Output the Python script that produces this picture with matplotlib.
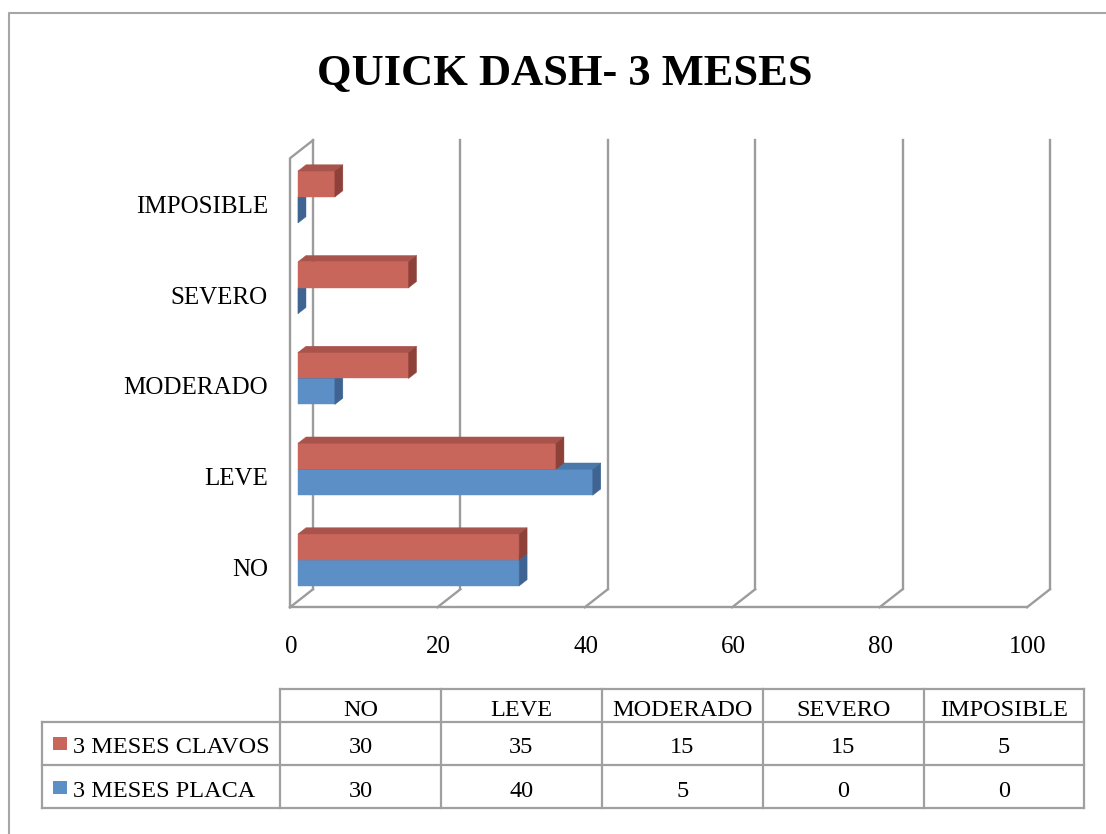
import matplotlib
matplotlib.use("Agg")
import matplotlib.pyplot as plt
from matplotlib.patches import Polygon, Rectangle
from matplotlib import transforms

# ---------------- data ----------------
title = "QUICK DASH- 3 MESES"
categories = ["NO", "LEVE", "MODERADO", "SEVERO", "IMPOSIBLE"]
series_names = ["3 MESES CLAVOS", "3 MESES PLACA"]
clavos = [30, 35, 15, 15, 5]
placa = [30, 40, 5, 0, 0]
xticks = [0, 20, 40, 60, 80, 100]

# ---------------- style ----------------
SERIF = ["Liberation Serif", "DejaVu Serif"]
LBL_FS = 18
TBL_FS = 17.5
GRID = "#9c9c9c"
RED = dict(front="#C9665C", top="#A8534B", side="#8E4139")
BLUE = dict(front="#5B8FC5", top="#4A78AB", side="#3F6491")

W, H = 1106, 834
fig = plt.figure(figsize=(W / 100, H / 100), dpi=100)
fig.patch.set_facecolor("white")

# overlay axes in pixel coordinates (border, title, table)
ov = fig.add_axes([0, 0, 1, 1], zorder=0)
ov.set_xlim(0, W)
ov.set_ylim(H, 0)
ov.axis("off")

# main chart axes (front plane of the bars)
x0px, x100px = 298, 1035
ybot, ytop = 601, 152
ax = fig.add_axes([x0px / W, 1 - ybot / H, (x100px - x0px) / W, (ybot - ytop) / H], zorder=2)
ax.set_xlim(0, 100)
y_floor, y_top = -0.452, 4.496
ax.set_ylim(y_floor, y_top)
ax.axis("off")

pxx = (x100px - x0px) / 100.0          # px per value unit
pxy = (ybot - ytop) / (y_top - y_floor)  # px per category unit
SLOPE = 18.0 / 23.0


def P(v, i, d):
    """point at value v, category coordinate i, depth d (px)"""
    return (v + d / pxx, i + d * SLOPE / pxy)


D_FRONT, D_BAR0, D_BAR1, D_BACK = -8, 0, 8, 15
lw_grid = 1.7

# walls / gridlines
for v in xticks:
    a, b = P(v, y_floor, D_BACK), P(v, y_top, D_BACK)
    ax.plot([a[0], b[0]], [a[1], b[1]], color=GRID, lw=lw_grid, clip_on=False, zorder=1)
    a, b = P(v, y_floor, D_FRONT), P(v, y_floor, D_BACK)
    ax.plot([a[0], b[0]], [a[1], b[1]], color=GRID, lw=lw_grid, clip_on=False, zorder=1)
a, b = P(xticks[0], y_floor, D_FRONT), P(xticks[-1], y_floor, D_FRONT)
ax.plot([a[0], b[0]], [a[1], b[1]], color=GRID, lw=lw_grid, clip_on=False, zorder=1)
pts = [P(0, y_floor, D_FRONT), P(0, y_top, D_FRONT), P(0, y_top, D_BACK)]
ax.plot([p[0] for p in pts], [p[1] for p in pts], color=GRID, lw=lw_grid, clip_on=False, zorder=1)

# bars
BAR_H = 26.0 / pxy


def bar(v, y0, y1, col):
    faces = [
        ([P(0, y0, D_BAR0), P(v, y0, D_BAR0), P(v, y1, D_BAR0), P(0, y1, D_BAR0)], col["front"]),
        ([P(0, y1, D_BAR0), P(v, y1, D_BAR0), P(v, y1, D_BAR1), P(0, y1, D_BAR1)], col["top"]),
        ([P(v, y0, D_BAR0), P(v, y0, D_BAR1), P(v, y1, D_BAR1), P(v, y1, D_BAR0)], col["side"]),
    ]
    for verts, c in faces:
        ax.add_patch(Polygon(verts, closed=True, facecolor=c, edgecolor=c, lw=0.3,
                             clip_on=False, zorder=3))


for idx in range(len(categories) - 1, -1, -1):
    bar(placa[idx], idx - BAR_H, idx, BLUE)
    bar(clavos[idx], idx, idx + BAR_H, RED)

# category labels
tr_y = transforms.offset_copy(ax.transData, fig=fig, x=-30, y=-16, units="dots")
for idx, c in enumerate(categories):
    ax.text(0, idx, c, transform=tr_y, ha="right", va="baseline",
            fontsize=LBL_FS, family=SERIF, color="black", clip_on=False)

# value tick labels
blend = transforms.blended_transform_factory(ax.transData, ax.transAxes)
tr_x = transforms.offset_copy(blend, fig=fig, x=-7, y=-52, units="dots")
for v in xticks:
    ax.text(v, 0, str(v), transform=tr_x, ha="center", va="baseline",
            fontsize=LBL_FS, family=SERIF, color="black", clip_on=False)

# title
ov.text(565, 85, title, ha="center", va="baseline", fontsize=32,
        fontweight="bold", family=SERIF, color="black")

# outer border
ov.plot([8.5, 8.5, W + 5], [H + 5, 12.5, 12.5], color="#a6a6a6", lw=1.5, clip_on=False)

# ---------------- data table ----------------
TBL = "#a0a0a0"
col_x = [280, 441, 602, 763, 924, 1084]
leg_x = 42
row_y = [689, 722, 765, 808]
tlw = 1.6
ov.plot([col_x[0], col_x[-1]], [row_y[0], row_y[0]], color=TBL, lw=tlw)
for x in col_x:
    ov.plot([x, x], [row_y[0], row_y[-1]], color=TBL, lw=tlw)
for y in row_y[1:]:
    ov.plot([leg_x, col_x[-1]], [y, y], color=TBL, lw=tlw)
ov.plot([leg_x, leg_x], [row_y[1], row_y[-1]], color=TBL, lw=tlw)

for j, c in enumerate(categories):
    cx = (col_x[j] + col_x[j + 1]) / 2
    ov.text(cx, 716, c, ha="center", va="baseline", fontsize=TBL_FS, family=SERIF)

row_vals = [clavos, placa]
row_cols = [RED["front"], BLUE["front"]]
baselines = [753, 797]
for r in range(2):
    yb = baselines[r]
    ov.add_patch(Rectangle((53, yb - 16), 14, 13, facecolor=row_cols[r], edgecolor="none"))
    ov.text(73, yb, series_names[r], ha="left", va="baseline", fontsize=TBL_FS, family=SERIF)
    for j, val in enumerate(row_vals[r]):
        cx = (col_x[j] + col_x[j + 1]) / 2
        ov.text(cx, yb, str(val), ha="center", va="baseline", fontsize=TBL_FS, family=SERIF)

fig.savefig("out.png", dpi=100)
